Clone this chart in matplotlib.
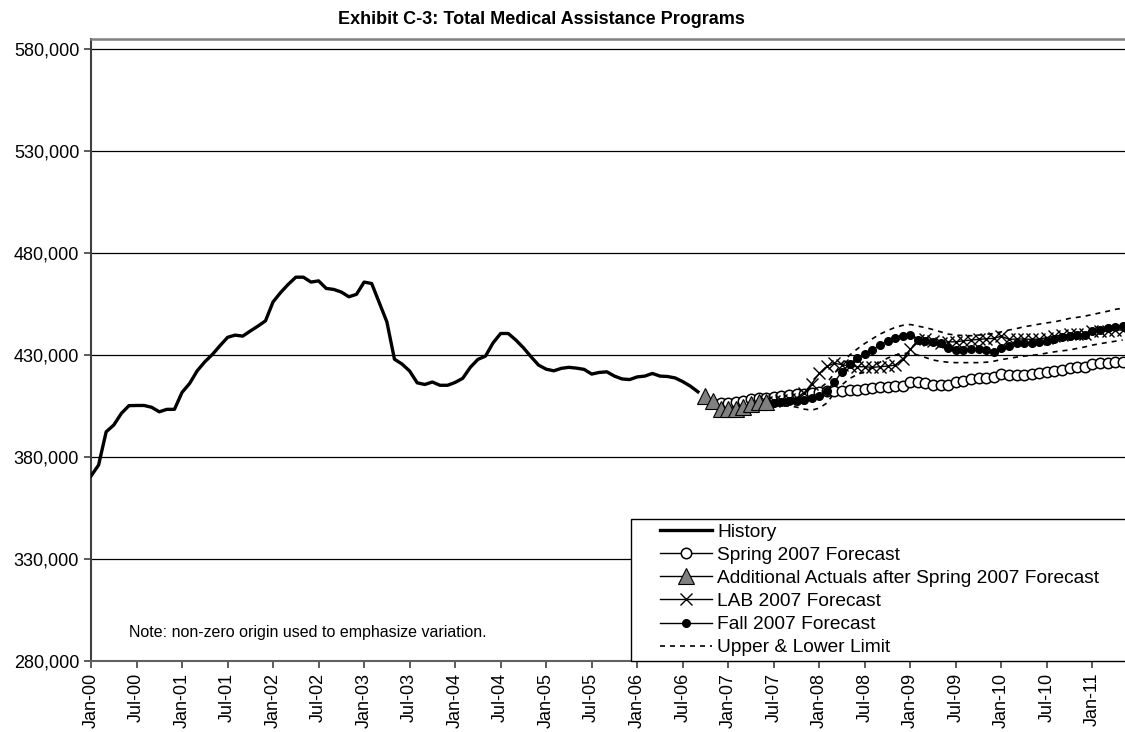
import matplotlib
matplotlib.use("Agg")
import matplotlib.pyplot as plt
import numpy as np
from matplotlib.lines import Line2D
from matplotlib.legend_handler import HandlerLine2D
from matplotlib.ticker import FuncFormatter

plt.rcParams['font.family'] = ['Liberation Sans', 'DejaVu Sans']

# x positions are month indices, 0 = Jan-00
tick_labels = ['Jan-00', 'Jul-00', 'Jan-01', 'Jul-01', 'Jan-02', 'Jul-02', 'Jan-03', 'Jul-03',
               'Jan-04', 'Jul-04', 'Jan-05', 'Jul-05', 'Jan-06', 'Jul-06', 'Jan-07', 'Jul-07',
               'Jan-08', 'Jul-08', 'Jan-09', 'Jul-09', 'Jan-10', 'Jul-10', 'Jan-11']

history_start = 0
history = [370700, 376100, 392400, 395700, 401400, 405200, 405300, 405300, 404400, 402200,
           403400, 403400, 411700, 416100, 422300, 426700, 430300, 434600, 438700, 439800,
           439300, 441800, 444200, 446800, 456100, 460700, 464700, 468200, 468200, 465800,
           466400, 462700, 462200, 460900, 458600, 459800, 465800, 465100, 455700, 446300,
           428000, 425600, 422200, 416400, 415600, 416800, 415200, 415200, 416600, 418600,
           424000, 427900, 429500, 436000, 440600, 440600, 437400, 433600, 429200, 425100,
           423100, 422300, 423500, 424000, 423600, 423000, 420700, 421500, 421800, 419700,
           418300, 418000, 419300, 419700, 421000, 419700, 419500, 418800, 417000, 414800,
           412000]

actuals_start = 81
actuals = [409900, 407600, 403500, 403500, 403500, 404400, 405800, 406800, 407100]

spring_start = 83
spring = [406300, 406600, 406800, 407600, 408300, 408800, 409100, 409600, 409900, 410200,
          410700, 410900, 411200, 411700, 412200, 412500, 412500, 412800, 412800, 413200,
          413700, 414200, 414500, 414800, 414800, 416600, 416600, 416100, 415500, 415100,
          415300, 416600, 417300, 418100, 418600, 418900, 419400, 420700, 420000, 420200,
          420300, 420700, 421000, 421700, 422200, 422600, 423500, 424000, 424300, 425400,
          425900, 426200, 426600, 426700]

lab_start = 89
lab = [407000, 407400, 408000, 408700, 409000, 411500, 416000, 421000, 424500, 426000,
       425300, 424600, 424300, 424300, 424000, 424300, 424600, 425100, 427900, 432800,
       437300, 437700, 436900, 436000, 436500, 436500, 437000, 437400, 437700, 438000,
       438200, 439300, 437700, 437900, 437900, 437700, 437900, 438600, 439300, 439800,
       440200, 440200, 440300, 441800, 441800, 441800, 442300, 442300]

fall_start = 90
fall = [406500, 406900, 407300, 407700, 408200, 408800, 409900, 412500, 416900, 421800,
        425800, 428500, 430300, 432600, 435000, 436900, 438500, 439500, 439800, 437400,
        437000, 436500, 435700, 433600, 432400, 432700, 432900, 432900, 432700, 431600,
        433600, 434700, 435700, 436000, 436000, 436300, 436800, 438100, 438700, 439500,
        440000, 440000, 441600, 442400, 443200, 444000, 444500]

limit_start = 90
upper = [408000, 408800, 409500, 410300, 411000, 412000, 413500, 416500, 421000, 426000,
         430000, 433000, 435700, 438000, 440300, 442000, 443600, 444600, 445000, 444200,
         443500, 442500, 441400, 440300, 439800, 439600, 439500, 439800, 440200, 440600,
         441400, 442300, 443000, 443900, 444500, 445200, 445800, 446300, 447100, 448000,
         448500, 449100, 449900, 450700, 451500, 452400, 453000]
lower = [405000, 405000, 405000, 404500, 403500, 403000, 404000, 406500, 411500, 415500,
         418500, 420500, 421800, 424000, 426500, 428500, 430000, 430800, 431000, 430000,
         428800, 427600, 426900, 426500, 426300, 426300, 426300, 426300, 426500, 427000,
         427800, 428400, 429000, 429500, 429900, 430300, 431000, 431600, 432100, 432500,
         433300, 434000, 434900, 435600, 436200, 436800, 437400]


def xs(start, vals):
    return np.arange(start, start + len(vals))


fig = plt.figure(figsize=(11.25, 7.32), dpi=100)
ax = fig.add_axes([91 / 1125, 1 - 661 / 732, 1 - 91 / 1125, (661 - 39) / 732])

for y in range(330000, 580001, 50000):
    ax.axhline(y, color='black', lw=0.9, zorder=1)

ax.plot(xs(history_start, history), history, color='black', lw=2.4, label='History', zorder=3)
ax.plot(xs(spring_start, spring), spring, color='black', lw=1, marker='o', ms=7.5,
        mfc='white', mec='black', mew=1.1, label='Spring 2007 Forecast', zorder=4)
ax.plot(xs(actuals_start, actuals), actuals, color='black', lw=1, marker='^', ms=11.5,
        mfc='#808080', mec='black', mew=0.8,
        label='Additional Actuals after Spring 2007 Forecast', zorder=5)
ax.plot(xs(lab_start, lab), lab, color='black', lw=1, marker='x', ms=8, mew=1,
        label='LAB 2007 Forecast', zorder=4)
ax.plot(xs(fall_start, fall), fall, color='black', lw=1, marker='o', ms=5.5,
        mfc='black', mec='black', label='Fall 2007 Forecast', zorder=4)
ax.plot(xs(limit_start, upper), upper, color='black', lw=1.2, ls=(0, (3, 3)),
        label='Upper & Lower Limit', zorder=3)
ax.plot(xs(limit_start, lower), lower, color='black', lw=1.2, ls=(0, (3, 3)), zorder=3)

ax.set_xlim(0, 136.3)
ax.set_ylim(280000, 585000)
ax.set_yticks(range(280000, 580001, 50000))
ax.yaxis.set_major_formatter(FuncFormatter(lambda v, p: f'{int(v):,}'))
ax.set_xticks(range(0, 6 * len(tick_labels), 6))
ax.set_xticklabels(tick_labels, rotation=90)
ax.tick_params(axis='both', labelsize=13, length=5, width=1.2, direction='out', color='#404040')

ax.spines['right'].set_visible(False)
ax.spines['top'].set_color('#808080')
ax.spines['top'].set_linewidth(1.8)
ax.spines['left'].set_color('#404040')
ax.spines['left'].set_linewidth(1.5)
ax.spines['bottom'].set_color('#606060')
ax.spines['bottom'].set_linewidth(1.5)

ax.text(5, 293800, 'Note: non-zero origin used to emphasize variation.', fontsize=11.5,
        va='center', ha='left')

fig.text(541.5 / 1125, 1 - 19 / 732, 'Exhibit C-3: Total Medical Assistance Programs',
         fontsize=13, fontweight='bold', ha='center', va='center',
         family=['Liberation Sans Narrow', 'Liberation Sans'])

leg_left = 630.7 / 1125
leg = ax.legend(loc='upper left', bbox_to_anchor=(leg_left, 1 - 519 / 732, 1.005 - leg_left, 0),
                bbox_transform=fig.transFigure, mode='expand', fontsize=13.8, frameon=True,
                fancybox=False, edgecolor='black', framealpha=1, borderpad=0.22,
                labelspacing=0.3, handlelength=4.04, handletextpad=0.25, numpoints=1,
                borderaxespad=0, handler_map={Line2D: HandlerLine2D(xpad=1.33)})
leg.get_frame().set_linewidth(1)
leg.set_zorder(10)

fig.savefig('out.png', dpi=100)
